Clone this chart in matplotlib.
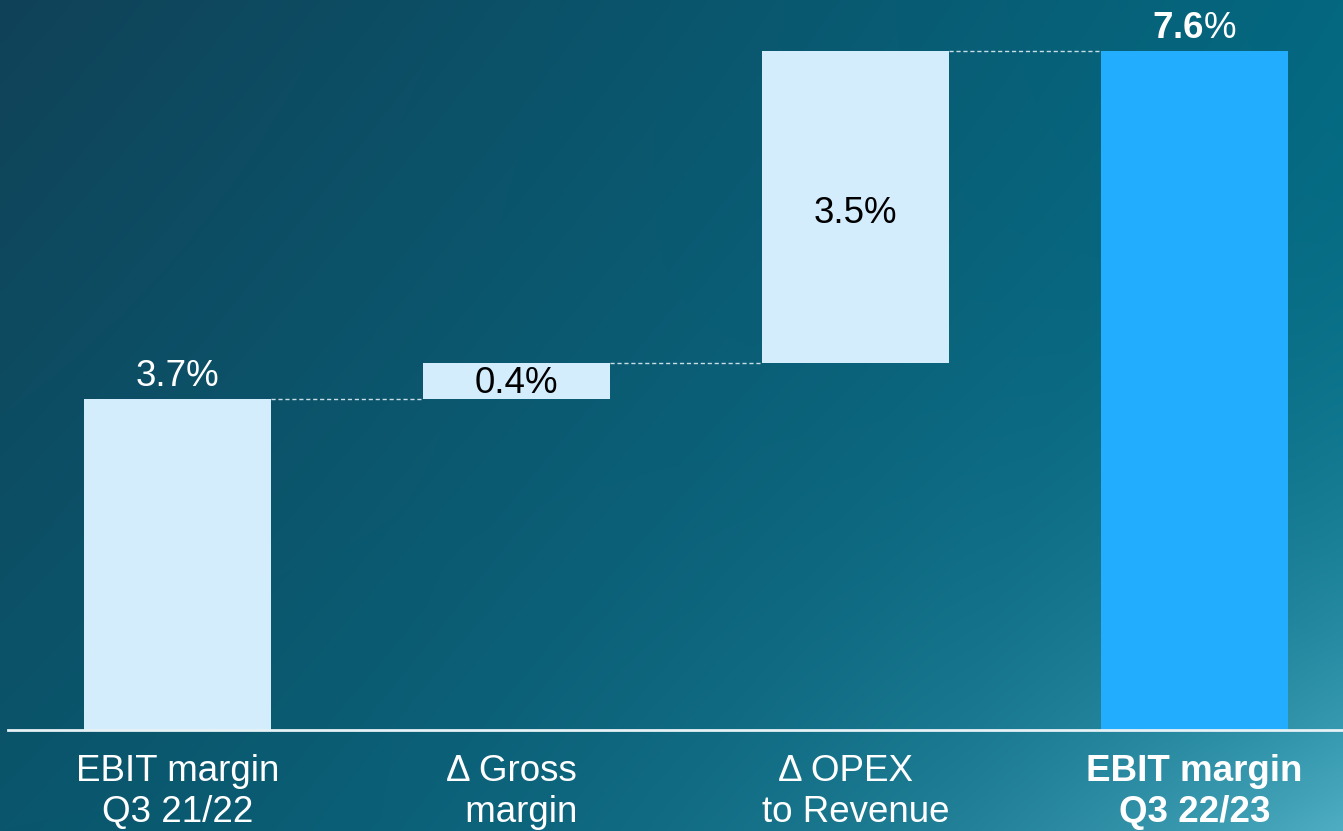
#EBIT margin bridge Q3 21/22 -> Q3 22/23

import numpy as np
import matplotlib.pyplot as plt

plt.rcParams['font.family'] = ['Liberation Sans', 'DejaVu Sans']
plt.rcParams['mathtext.fontset'] = 'custom'
plt.rcParams['mathtext.rm'] = 'Liberation Sans'
plt.rcParams['mathtext.bf'] = 'Liberation Sans:bold'

# data
categories = ['EBIT margin\nQ3 21/22', 'Δ Gross \n margin', 'Δ OPEX  \nto Revenue', 'EBIT margin\nQ3 22/23']
start_value = 3.7
deltas = [0.4, 3.5]
end_value = 7.6
value_labels = ['3.7%', '0.4%', '3.5%', r'$\mathbf{7.6}$%']

# bar bottoms / heights for the waterfall
levels = np.cumsum([start_value] + deltas)
bottoms = [0, levels[0], levels[1], 0]
heights = [start_value, deltas[0], deltas[1], end_value]
colors = ['#d3edfc', '#d3edfc', '#d3edfc', '#23adff']

fig = plt.figure(figsize=(13.43, 8.31), dpi=100)

# gradient background
bg = fig.add_axes([0, 0, 1, 1], zorder=-1)
h, w = 200, 320
u = np.linspace(0, 1, w)[None, :, None]
v = np.linspace(0, 1, h)[:, None, None]
tl = np.array([16, 66, 88]) / 255.
tr = np.array([4, 104, 128]) / 255.
bl = np.array([10, 86, 108]) / 255.
br = np.array([8, 118, 144]) / 255.
img = (1-u)*(1-v)*tl + u*(1-v)*tr + (1-u)*v*bl + u*v*br
img = img + (u*v)**3 * np.array([70, 55, 50]) / 255.
bg.imshow(np.clip(img, 0, 1), aspect='auto', extent=[0, 1, 0, 1], interpolation='bicubic')
bg.axis('off')

ax = fig.add_axes([0.006, 0.1215, 0.994, 0.8785])
ax.set_facecolor('none')

x = np.arange(len(categories))
width = 0.552
ax.bar(x, heights, width, bottom=bottoms, color=colors, zorder=2)

# dashed connectors
conn = [levels[0], levels[1], end_value]
for i in range(3):
  ax.plot([x[i] + width/2, x[i+1] - width/2], [conn[i], conn[i]],
          ls=(0, (3, 2)), color='#c8dde6', lw=1, zorder=1)

# value labels
fs = 26.5
ax.text(x[0], heights[0] + 0.06, value_labels[0], ha='center', va='bottom', fontsize=fs, color='white')
ax.text(x[1], bottoms[1] + heights[1]/2 - 0.02, value_labels[1], ha='center', va='center', fontsize=fs, color='black')
ax.text(x[2], bottoms[2] + heights[2]/2 - 0.07, value_labels[2], ha='center', va='center', fontsize=fs, color='black')
ax.text(x[3], heights[3] + 0.05, value_labels[3], ha='center', va='bottom', fontsize=fs, color='white')

ax.set_xlim(-0.5, 3.438)
ax.set_ylim(0, 8.165)
ax.set_xticks(x)
ax.set_xticklabels(categories, fontsize=fs, color='white', linespacing=1.25)
ax.get_xticklabels()[3].set_fontweight('bold')
ax.tick_params(axis='x', length=0, pad=17)
ax.set_yticks([])
for s in ['top', 'right', 'left']:
  ax.spines[s].set_visible(False)
ax.spines['bottom'].set_color('#e6f2f6')
ax.spines['bottom'].set_linewidth(2)

plt.savefig('out.png', dpi=100)
